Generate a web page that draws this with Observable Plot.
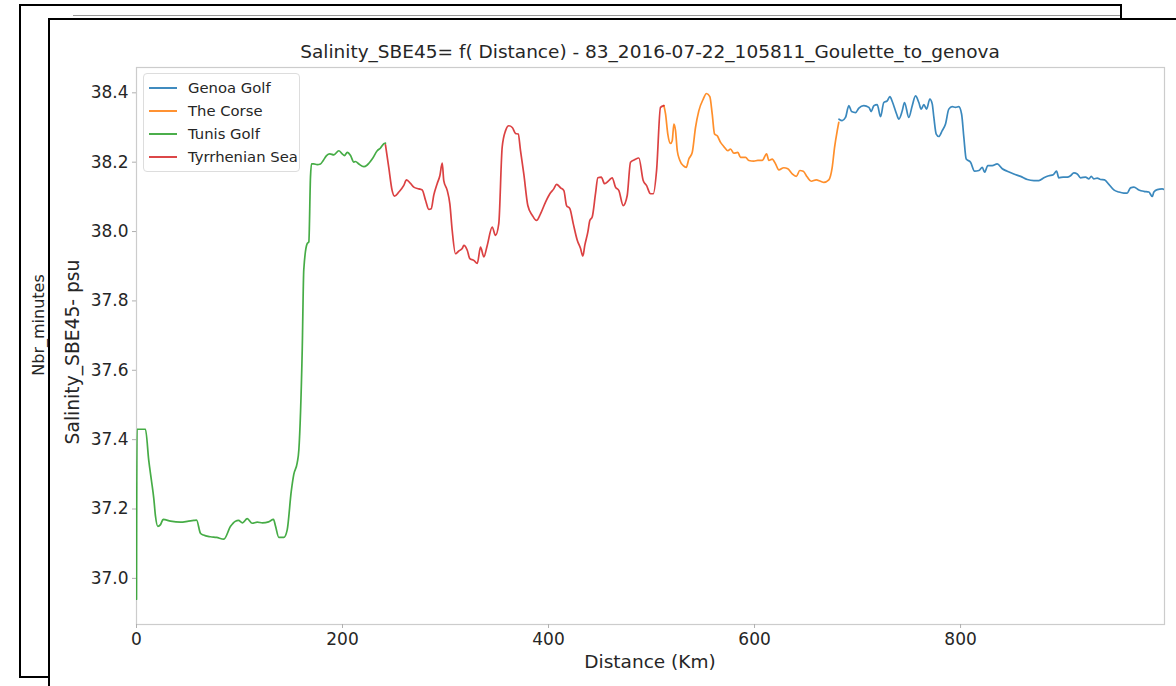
<!DOCTYPE html>
<html><head><meta charset="utf-8">
<script src="https://cdn.jsdelivr.net/npm/d3@7"></script>
<script src="https://cdn.jsdelivr.net/npm/@observablehq/plot@0.6"></script>
<style>
body{margin:0;background:#fff;font-family:"DejaVu Sans",sans-serif;}
#wrap{position:relative;width:1176px;height:686px;overflow:hidden;background:#fff;}
.outer{position:absolute;left:19px;top:4px;width:1099px;height:670px;border:2px solid #000;}
.grayline{position:absolute;left:73px;top:15px;width:1047px;height:0;border-top:1px solid #999;}
.inner{position:absolute;left:48px;top:18px;width:1300px;height:800px;border:2px solid #000;background:#fff;}
#chart{position:absolute;left:0;top:0;}
.txt{position:absolute;color:#262626;white-space:nowrap;}
.title{left:0;width:1300px;text-align:center;top:41px;font-size:18.5px;}
.xlab{left:650px;top:651px;font-size:18.5px;transform:translateX(-50%);}
.ylab{left:72px;top:352px;font-size:18.7px;transform:translate(-50%,-50%) rotate(-90deg);}
.ylab2{left:38px;top:325px;font-size:16px;transform:translate(-50%,-50%) rotate(-90deg);}
#legend{position:absolute;left:143px;top:73px;width:155px;padding:2px 0 3px 0;border:1px solid #ddd;border-radius:4px;background:rgba(255,255,255,0.85);}
#legend .row{display:flex;align-items:center;height:23px;font-size:14.8px;color:#262626;}
#legend .sw{width:28px;height:0;border-top:2px solid;margin:0 11px 0 5px;opacity:.85;}
</style></head><body>
<div id="wrap">
  <div class="outer"></div>
  <div class="grayline"></div>
  <div class="inner"></div>
  <div class="txt ylab2">Nbr_minutes</div>
  <div id="chart"></div>
  <div class="txt title"></div>
  <div class="txt xlab"></div>
  <div class="txt ylab"></div>
  <div id="legend"></div>
</div>
<script>
const titleText = "Salinity_SBE45= f( Distance) - 83_2016-07-22_105811_Goulette_to_genova";
const xLabel = "Distance (Km)";
const yLabel = "Salinity_SBE45- psu";
const seriesNames = ["Genoa Golf", "The Corse", "Tunis Golf", "Tyrrhenian Sea"];
const seriesColors = ["#1f77b4", "#ff7f0e", "#2ca02c", "#d62728"];
const xTicks = [0, 200, 400, 600, 800];
const yTicks = [37.0, 37.2, 37.4, 37.6, 37.8, 38.0, 38.2, 38.4];
const xDomain = [0, 998];
const yDomain = [36.867, 38.473];

// [distance km, salinity psu]
const tunisGolf = [
[0,36.94],[0.5,37.43],[6.8,37.43],[8.7,37.43],[11.9,37.34],[14.6,37.28],[16.8,37.23],[18.4,37.18],[20.7,37.15],[23.3,37.155],
[25.9,37.17],[33.0,37.165],[42.7,37.162],[50.5,37.165],[55.6,37.167],[58.3,37.168],[62.1,37.13],[65.0,37.125],[71.8,37.12],[77.7,37.118],
[84.8,37.113],[91.3,37.15],[96.1,37.165],[99.0,37.167],[102.9,37.16],[107.5,37.172],[112.3,37.159],[117.2,37.162],[122.3,37.16],[128.2,37.163],
[133.0,37.17],[135.0,37.15],[138.2,37.118],[143.0,37.118],[146.3,37.14],[150.2,37.25],[152.7,37.30],[156.0,37.333],[157.6,37.37],[160.9,37.66],
[162.4,37.89],[165.7,37.965],[167.3,37.97],[168.9,38.157],[169.9,38.195],[172.1,38.195],[175.4,38.193],[178.6,38.195],[181.3,38.205],[184.5,38.219],
[187.7,38.224],[191.6,38.221],[196.4,38.233],[199.7,38.224],[201.9,38.219],[204.6,38.228],[207.8,38.219],[211.0,38.2],[212.6,38.202],[215.8,38.195],
[220.7,38.187],[224.0,38.192],[228.8,38.209],[233.7,38.233],[236.9,38.241],[240.1,38.253],[241.7,38.255]
];
const tyrrhenianSea = [
[241.7,38.25],[244.9,38.185],[248.2,38.118],[250.5,38.102],[254.7,38.114],[259.5,38.133],[262.1,38.149],[266.0,38.139],[269.2,38.128],[274.1,38.123],
[277.4,38.12],[280.6,38.09],[283.8,38.064],[286.1,38.066],[288.6,38.105],[291.9,38.138],[294.5,38.161],[296.8,38.197],[298.3,38.147],[301.7,38.118],
[304.2,38.08],[306.5,38.003],[309.7,37.936],[312.9,37.944],[316.2,37.951],[317.8,37.96],[321.1,37.946],[323.6,37.922],[327.5,37.917],[330.8,37.908],
[334.0,37.955],[337.2,37.927],[340.5,37.96],[345.3,38.013],[348.5,37.989],[351.7,38.023],[355.0,38.243],[358.3,38.291],[361.5,38.305],[364.8,38.30],
[368.0,38.283],[370.6,38.281],[372.8,38.233],[376.0,38.166],[379.9,38.075],[384.2,38.047],[388.3,38.032],[392.2,38.051],[397.1,38.085],[401.3,38.109],
[405.1,38.123],[407.8,38.136],[411.7,38.126],[414.9,38.118],[417.5,38.075],[420.7,38.066],[424.0,38.023],[427.9,37.975],[431.1,37.951],[433.3,37.929],
[435.2,37.96],[438.2,37.999],[440.1,38.032],[442.4,38.042],[445.6,38.109],[447.9,38.155],[451.2,38.157],[454.4,38.138],[458.5,38.147],[461.8,38.155],
[465.0,38.128],[468.3,38.118],[472.5,38.075],[476.4,38.104],[479.6,38.20],[483.5,38.207],[487.7,38.212],[491.9,38.147],[495.1,38.133],[499.0,38.109],
[501.7,38.109],[504.9,38.176],[508.7,38.358],[512.0,38.363]
];
const theCorse = [
[512.0,38.363],[513.6,38.339],[515.8,38.281],[518.4,38.254],[520.1,38.262],[521.7,38.31],[523.3,38.291],[525.0,38.233],[527.5,38.205],[530.8,38.19],
[533.7,38.185],[536.2,38.209],[539.5,38.228],[542.7,38.30],[545.9,38.348],[550.2,38.382],[553.4,38.398],[556.6,38.389],[558.9,38.339],[561.2,38.281],
[563.8,38.276],[567.0,38.257],[570.2,38.245],[574.1,38.233],[576.7,38.238],[579.9,38.226],[583.8,38.228],[586.4,38.214],[591.3,38.214],[594.5,38.205],
[599.3,38.203],[603.2,38.205],[607.5,38.205],[611.7,38.224],[613.9,38.205],[617.2,38.209],[620.4,38.195],[623.6,38.178],[628.4,38.184],[632.3,38.181],
[636.6,38.166],[640.5,38.159],[644.0,38.176],[647.3,38.174],[651.2,38.157],[655.0,38.145],[659.9,38.149],[664.1,38.145],[667.3,38.142],[672.1,38.149],
[675.4,38.185],[677.7,38.243],[680.3,38.291],[681.8,38.315]
];
const genoaGolf = [
[682.0,38.324],[685.1,38.32],[688.3,38.329],[691.6,38.363],[694.2,38.346],[698.1,38.343],[701.3,38.356],[706.1,38.363],[711.0,38.358],[713.3,38.346],
[715.8,38.363],[719.1,38.366],[722.3,38.331],[725.5,38.372],[728.8,38.377],[731.4,38.389],[733.7,38.375],[737.9,38.339],[740.1,38.324],[743.4,38.348],
[745.6,38.372],[749.8,38.329],[753.1,38.363],[756.3,38.391],[759.5,38.372],[761.8,38.353],[764.4,38.366],[767.0,38.353],[770.2,38.382],[772.5,38.368],
[774.1,38.329],[776.4,38.281],[778.9,38.274],[782.2,38.291],[785.4,38.31],[788.6,38.353],[791.9,38.36],[795.1,38.358],[798.3,38.36],[801.0,38.339],
[803.2,38.272],[805.5,38.209],[809.7,38.2],[813.6,38.174],[817.8,38.176],[821.1,38.185],[823.3,38.171],[826.5,38.19],[830.8,38.19],[835.6,38.195],
[840.5,38.181],[845.3,38.174],[851.7,38.166],[858.3,38.159],[864.8,38.15],[871.2,38.147],[876.0,38.147],[880.9,38.155],[885.7,38.161],[890.0,38.164],
[893.2,38.174],[895.4,38.155],[899.7,38.157],[903.6,38.157],[906.8,38.161],[910.0,38.169],[913.3,38.166],[916.5,38.155],[921.4,38.157],[924.6,38.152],
[926.9,38.159],[929.4,38.152],[932.7,38.154],[935.9,38.15],[939.8,38.149],[944.0,38.136],[948.8,38.12],[953.7,38.114],[958.5,38.111],[961.8,38.111],
[965.0,38.126],[968.3,38.128],[973.1,38.12],[978.0,38.116],[982.8,38.114],[986.1,38.101],[987.7,38.114],[991.0,38.121],[995.8,38.123],[998.0,38.121]
];

const seriesData = [genoaGolf, theCorse, tunisGolf, tyrrhenianSea];
const rows = [];
seriesData.forEach((arr, i) => arr.forEach(([x, y]) => rows.push({series: seriesNames[i], x, y})));

const chart = Plot.plot({
  width: 1176, height: 686,
  marginLeft: 136, marginRight: 12, marginTop: 67, marginBottom: 62,
  style: {background: "none", fontFamily: "DejaVu Sans, sans-serif", color: "#262626", overflow: "visible"},
  x: {domain: xDomain},
  y: {domain: yDomain},
  color: {domain: seriesNames, range: seriesColors},
  marks: [
    Plot.frame({stroke: "#cccccc", strokeWidth: 1.2}),
    Plot.axisX({ticks: xTicks, tickSize: 4, tickPadding: 4, stroke: "#b0b0b0", fill: "#262626", fontSize: 17, label: null, tickFormat: d3.format("d")}),
    Plot.axisY({ticks: yTicks, tickSize: 4, tickPadding: 4, stroke: "#b0b0b0", fill: "#262626", fontSize: 17, label: null, tickFormat: d3.format(".1f")}),
    Plot.line(rows, {x: "x", y: "y", z: "series", stroke: "series", strokeWidth: 1.7, strokeOpacity: 0.88, curve: "monotone-x", clip: true})
  ]
});
document.getElementById("chart").appendChild(chart);

document.querySelector(".title").textContent = titleText;
document.querySelector(".xlab").textContent = xLabel;
document.querySelector(".ylab").textContent = yLabel;
const leg = document.getElementById("legend");
seriesNames.forEach((n, i) => {
  const r = document.createElement("div"); r.className = "row";
  const s = document.createElement("span"); s.className = "sw"; s.style.borderColor = seriesColors[i];
  const t = document.createElement("span"); t.textContent = n;
  r.appendChild(s); r.appendChild(t); leg.appendChild(r);
});
</script>
</body></html>
